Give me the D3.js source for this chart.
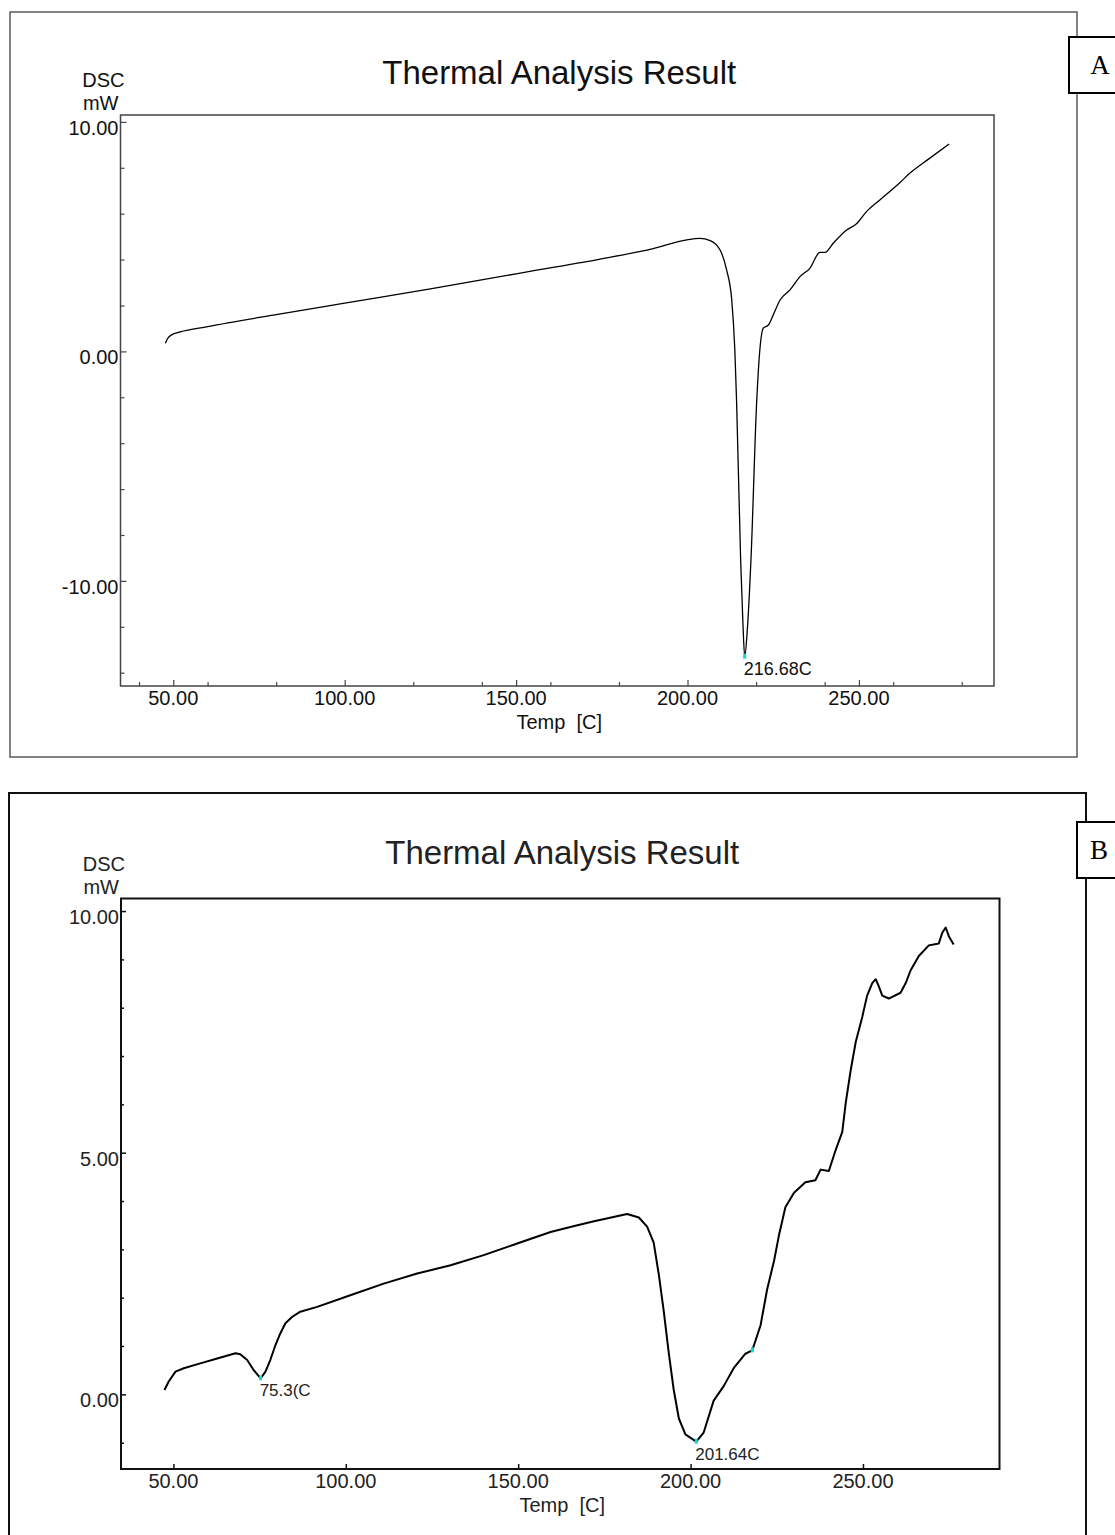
<!DOCTYPE html>
<html>
<head>
<meta charset="utf-8">
<script src="https://cdn.jsdelivr.net/npm/d3@7"></script>
<style>
  body { margin: 0; background: #fff; }
  svg { display: block; }
  text { font-family: "Liberation Sans", Arial, sans-serif; }
</style>
</head>
<body>
<svg id="chart" width="1115" height="1535"></svg>
<script>
// ---- data ----
const tempA = [47.7, 48.3, 49.5, 52, 60, 80, 100, 125, 150, 174.5, 190, 199.8, 203.6, 206.6,
  209.5, 211.4, 212.9, 213.8, 214.3, 215.5, 216.2, 216.68, 217.5, 218.5, 220.2, 221.1, 222.1,
  223.6, 225.0, 227.0, 229.9, 232.8, 235.7, 238.6, 240.1, 242.5, 246.4, 249.3, 252.2, 256.1,
  262.0, 264.9, 270.5, 276.3];
const dscA = [0.35, 0.55, 0.72, 0.85, 1.08, 1.6, 2.1, 2.72, 3.38, 4.02, 4.48, 4.86, 4.92, 4.83,
  4.42, 3.55, 2.24, 0.07, -2.11, -9.1, -12.0, -13.3, -12.0, -9.1, -2.11, 0.07, 1.01,
  1.15, 1.59, 2.24, 2.68, 3.26, 3.62, 4.31, 4.31, 4.71, 5.29, 5.56, 6.09, 6.60,
  7.36, 7.77, 8.4, 9.04];

const tempB = [47.4, 48.6, 50.6, 53.0, 57.8, 62.7, 68.0, 69.4, 71.4, 73.3, 75.3, 76.7, 78.1,
  79.6, 81.0, 82.5, 84.4, 86.8, 91.7, 101.3, 111.0, 120.7, 130.4, 140.0, 149.7, 159.4, 166,
  172.0, 181.6, 185.0, 187.4, 189.3, 190.8, 192.2, 193.7, 195.1, 196.6, 198.5, 201.64, 203.8,
  206.7, 209.6, 212.5, 215.9, 217.9, 220.3, 222.2, 224.2, 225.6, 227.5, 230.0, 233.3, 236.2,
  237.7, 240.1, 242.1, 244.0, 245.0, 246.4, 247.9, 249.8, 251.2, 252.7, 253.7, 254.6, 255.6,
  257.5, 260.9, 262.4, 263.8, 266.2, 269.1, 272.0, 273.0, 274.0, 274.9, 276.3];
const dscB = [0.09, 0.26, 0.47, 0.54, 0.64, 0.74, 0.85, 0.83, 0.71, 0.50, 0.33, 0.47, 0.71,
  1.02, 1.26, 1.47, 1.60, 1.71, 1.81, 2.05, 2.29, 2.50, 2.67, 2.88, 3.12, 3.36, 3.48,
  3.58, 3.73, 3.66, 3.47, 3.14, 2.47, 1.73, 0.84, 0.10, -0.50, -0.83, -0.98, -0.79,
  -0.13, 0.17, 0.54, 0.84, 0.91, 1.43, 2.17, 2.76, 3.28, 3.87, 4.17, 4.39, 4.43,
  4.65, 4.62, 5.06, 5.43, 6.03, 6.69, 7.29, 7.81, 8.25, 8.51, 8.59, 8.44, 8.25,
  8.19, 8.31, 8.51, 8.77, 9.07, 9.29, 9.33, 9.55, 9.66, 9.48, 9.31];

const peakTempsA = [216.68];
const peakLabelsA = ["216.68C"];
const peakTempsB = [75.3, 201.64, 217.9];
const peakLabelsB = ["75.3(C", "201.64C", ""];

const xTickValues = [50, 100, 150, 200, 250];
const xMinorA = [40, 60, 80, 120, 140, 160, 180, 220, 240, 260, 280];
const xMinorB = [];
const yTickValuesA = [-10, 0, 10];
const yMinorA = [-14, -12, -8, -6, -4, -2, 2, 4, 6, 8];
const yTickValuesB = [0, 5, 10];
const yMinorB = [-1, 1, 2, 3, 4, 6, 7, 8, 9];

const svg = d3.select("#chart");
// plain hyphen for negatives, as the instrument software prints it
const fmt = (d) => d.toFixed(2);

function drawPanel(cfg) {
  const g = svg.append("g");

  // outer frame
  g.append("rect")
    .attr("x", cfg.frame[0]).attr("y", cfg.frame[1])
    .attr("width", cfg.frame[2]).attr("height", cfg.frame[3])
    .style("fill", "none").style("stroke", cfg.frameColor).style("stroke-width", cfg.frameWidth);

  // letter box on the right edge
  g.append("rect")
    .attr("x", cfg.box[0]).attr("y", cfg.box[1])
    .attr("width", cfg.box[2]).attr("height", cfg.box[3])
    .style("fill", "#fff").style("stroke", "#000").style("stroke-width", 2);
  g.append("text")
    .attr("x", cfg.letterX).attr("y", cfg.box[1] + cfg.box[3] / 2)
    .attr("dy", "0.35em").attr("text-anchor", "middle")
    .style("font-family", "'Liberation Serif', 'Times New Roman', serif")
    .style("font-size", "27px")
    .text(cfg.letter);

  const x = d3.scaleLinear().domain(cfg.xDomain).range([cfg.left, cfg.right]);
  const y = d3.scaleLinear().domain(cfg.yDomain).range([cfg.bottom, cfg.top]);

  // title
  g.append("text")
    .attr("x", (cfg.left + cfg.right) / 2 + 2).attr("y", cfg.titleY)
    .attr("dy", "0.35em").attr("text-anchor", "middle")
    .style("font-size", "33px").style("fill", cfg.textColor)
    .text("Thermal Analysis Result");

  // y unit label
  g.append("text").attr("x", cfg.left + 4).attr("y", cfg.top - 35)
    .attr("dy", "0.35em").attr("text-anchor", "end")
    .style("font-size", "20px").style("fill", cfg.textColor).text("DSC");
  g.append("text").attr("x", cfg.left - 2).attr("y", cfg.top - 12)
    .attr("dy", "0.35em").attr("text-anchor", "end")
    .style("font-size", "20px").style("fill", cfg.textColor).text("mW");

  // plot frame
  g.append("rect")
    .attr("x", cfg.left).attr("y", cfg.top)
    .attr("width", cfg.right - cfg.left).attr("height", cfg.bottom - cfg.top)
    .style("fill", "none").style("stroke", cfg.axisColor).style("stroke-width", cfg.axisWidth);

  // x axis: ticks point inward (upward)
  const xAxis = g.append("g").attr("transform", `translate(0,${cfg.bottom})`)
    .call(d3.axisTop(x).tickValues(xTickValues).tickSize(cfg.majorTick).tickFormat(""));
  xAxis.select(".domain").remove();
  xAxis.selectAll("line").style("stroke", cfg.axisColor).style("stroke-width", cfg.tickWidth);

  const xMinor = g.append("g").attr("transform", `translate(0,${cfg.bottom})`)
    .call(d3.axisTop(x).tickValues(cfg.xMinor).tickSize(cfg.minorTick).tickFormat(""));
  xMinor.select(".domain").remove();
  xMinor.selectAll("line").style("stroke", cfg.axisColor).style("stroke-width", cfg.tickWidth);

  g.selectAll(".xlab").data(xTickValues).enter().append("text")
    .attr("x", (d) => x(d)).attr("y", cfg.bottom + 12)
    .attr("dy", "0.35em").attr("text-anchor", "middle")
    .style("font-size", "20px").style("fill", cfg.textColor)
    .text(fmt);

  g.append("text")
    .attr("x", (cfg.left + cfg.right) / 2 + 2).attr("y", cfg.bottom + 36)
    .attr("dy", "0.35em").attr("text-anchor", "middle")
    .style("font-size", "20px").style("fill", cfg.textColor)
    .style("white-space", "pre").attr("xml:space", "preserve")
    .text("Temp  [C]");

  // y axis: ticks point inward (right)
  const yAxis = g.append("g").attr("transform", `translate(${cfg.left},0)`)
    .call(d3.axisRight(y).tickValues(cfg.yTicks).tickSize(cfg.majorTick).tickFormat(""));
  yAxis.select(".domain").remove();
  yAxis.selectAll("line").style("stroke", cfg.axisColor).style("stroke-width", cfg.tickWidth);

  const yMinor = g.append("g").attr("transform", `translate(${cfg.left},0)`)
    .call(d3.axisRight(y).tickValues(cfg.yMinor).tickSize(cfg.minorTick).tickFormat(""));
  yMinor.select(".domain").remove();
  yMinor.selectAll("line").style("stroke", cfg.axisColor).style("stroke-width", cfg.tickWidth);

  g.selectAll(".ylab").data(cfg.yTicks).enter().append("text")
    .attr("x", cfg.left - 2).attr("y", (d) => y(d) + 6)
    .attr("dy", "0.35em").attr("text-anchor", "end")
    .style("font-size", "20px").style("fill", cfg.textColor)
    .text(fmt);

  // trace
  const pts = cfg.temps.map((t, i) => [t, cfg.dsc[i]]);
  const line = d3.line().x((d) => x(d[0])).y((d) => y(d[1])).curve(cfg.curve);
  g.append("path").datum(pts).attr("d", line)
    .style("fill", "none").style("stroke", "#000")
    .style("stroke-width", cfg.lineWidth).style("stroke-linejoin", "round");

  // peak markers and labels
  const valueAt = (t) => {
    const i = cfg.temps.findIndex((v) => v >= t);
    if (i <= 0) return cfg.dsc[0];
    const t0 = cfg.temps[i - 1], t1 = cfg.temps[i];
    return cfg.dsc[i - 1] + ((t - t0) / (t1 - t0)) * (cfg.dsc[i] - cfg.dsc[i - 1]);
  };
  cfg.peaks.forEach((t, i) => {
    const px = x(t), py = y(valueAt(t));
    g.append("rect").attr("x", px - 1.5).attr("y", py - 3).attr("width", 3).attr("height", 5)
      .style("fill", "#19d3d6");
    if (cfg.peakLabels[i]) {
      g.append("text").attr("x", px - 1).attr("y", py + 12)
        .attr("dy", "0.35em")
        .style("font-size", cfg.peakFont).style("fill", cfg.textColor)
        .text(cfg.peakLabels[i]);
    }
  });
}

drawPanel({
  frame: [10, 12, 1067, 745], frameColor: "#5a5a5a", frameWidth: 1.5,
  box: [1069, 37, 60, 56], letter: "A", letterX: 1100,
  left: 120.5, right: 994, top: 115, bottom: 686,
  xDomain: [34.6, 289.4], yDomain: [-14.58, 10.30],
  titleY: 72, textColor: "#111", axisColor: "#444", axisWidth: 1.5, tickWidth: 1.2,
  majorTick: 6, minorTick: 4,
  xMinor: xMinorA, yTicks: yTickValuesA, yMinor: yMinorA,
  temps: tempA, dsc: dscA, curve: d3.curveMonotoneX, lineWidth: 1.3,
  peaks: peakTempsA, peakLabels: peakLabelsA, peakFont: "18px"
});

drawPanel({
  frame: [9, 793, 1077, 760], frameColor: "#111", frameWidth: 2,
  box: [1077, 822, 60, 56], letter: "B", letterX: 1099,
  left: 121, right: 999.5, top: 898.5, bottom: 1469,
  xDomain: [34.8, 289.6], yDomain: [-1.545, 10.26],
  titleY: 852, textColor: "#222", axisColor: "#111", axisWidth: 2, tickWidth: 1.5,
  majorTick: 5, minorTick: 3,
  xMinor: xMinorB, yTicks: yTickValuesB, yMinor: yMinorB,
  temps: tempB, dsc: dscB, curve: d3.curveLinear, lineWidth: 2,
  peaks: peakTempsB, peakLabels: peakLabelsB, peakFont: "17px"
});
</script>
</body>
</html>
